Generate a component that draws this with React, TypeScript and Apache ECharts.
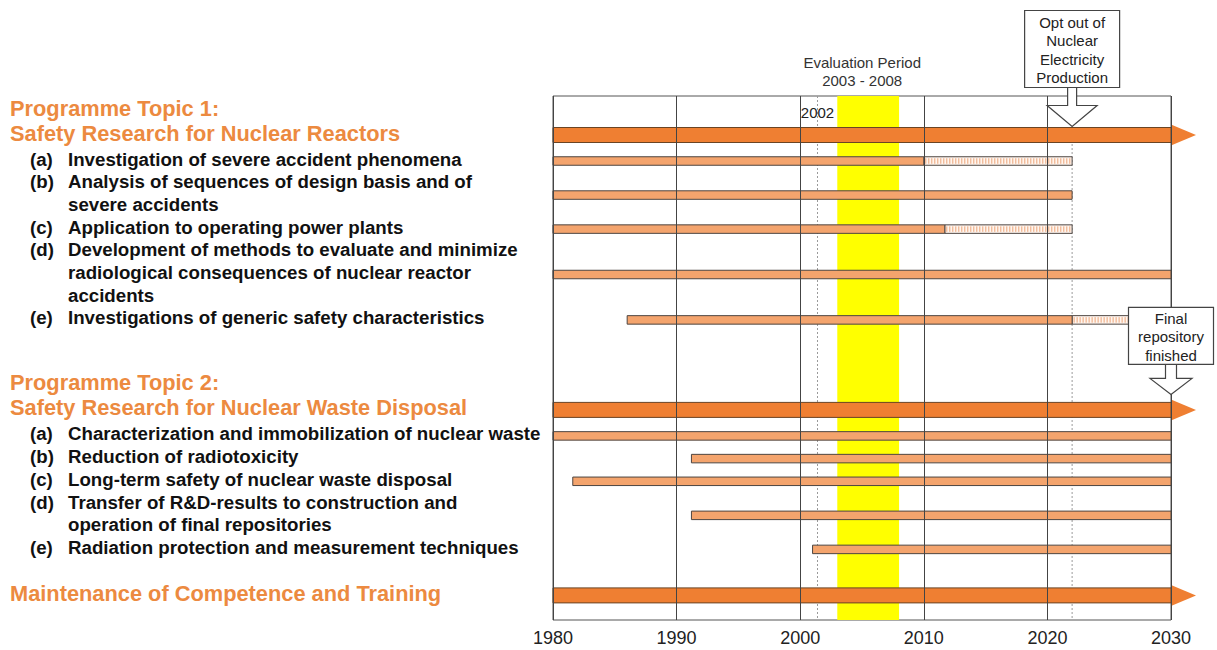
import React, { useEffect, useRef } from "react";
import * as echarts from "echarts";

// ---------------- data ----------------
const axisRange = [1980, 2030];
const axisStep = 10;

const taskLetters = ["", "(a)", "(b)", "(c)", "(d)", "(e)", "", "(a)", "(b)", "(c)", "(d)", "(e)", ""];
const taskLines: string[][] = [
  ["Programme Topic 1:", "Safety Research for Nuclear Reactors"],
  ["Investigation of severe accident phenomena"],
  ["Analysis of sequences of design basis and of", "severe accidents"],
  ["Application to operating power plants"],
  ["Development of methods to evaluate and minimize", "radiological consequences of nuclear reactor", "accidents"],
  ["Investigations of generic safety characteristics"],
  ["Programme Topic 2:", "Safety Research for Nuclear Waste Disposal"],
  ["Characterization and immobilization of nuclear waste"],
  ["Reduction of radiotoxicity"],
  ["Long-term safety of nuclear waste disposal"],
  ["Transfer of R&D-results to construction and", "operation of final repositories"],
  ["Radiation protection and measurement techniques"],
  ["Maintenance of Competence and Training"],
];
const taskIsTopic = [true, false, false, false, false, false, true, false, false, false, false, false, true];
const taskStart = [1980, 1980, 1980, 1980, 1980, 1986, 1980, 1980, 1991.2, 1981.6, 1991.2, 2001, 1980];
const taskEnd = [2030, 2010, 2022, 2011.7, 2030, 2022, 2030, 2030, 2030, 2030, 2030, 2030, 2030];
const taskPlannedEnd = [2030, 2022, 2022, 2022, 2030, 2027, 2030, 2030, 2030, 2030, 2030, 2030, 2030];

const evaluationPeriod = [2003, 2008];
const evaluationLabel = ["Evaluation Period", "2003 - 2008"];

const referenceLineYears = [2001.4, 2022];
const referenceLineLabels = ["2002", ""];

const calloutYears = [2022, 2030];
const calloutTask = [0, 6];
const calloutLines = [
  ["Opt out of", "Nuclear", "Electricity", "Production"],
  ["Final", "repository", "finished"],
];

// ---------------- layout / style ----------------
const FONT = '"Liberation Sans", Arial, Helvetica, sans-serif';
const LAYOUT = {
  gridLeft: 553,
  gridRight: 46,
  gridTop: 96,
  gridBottom: 30,
  frameH: 524,
  firstLine: 12,
  headingStep: 25,
  headingToItem: 26,
  itemStep: 22.7,
  groupGap: [65, 46],
  barShift: 2,
  topicX: 10,
  letterX: 30,
  itemX: 68,
  headingSize: 21.8,
  itemSize: 18.7,
};
const calloutGeom = [
  { w: 95, h: 77, stem: 18, head: 21, headHalf: 25, stemHalf: 4.5, gap: 1 },
  { w: 85, h: 57, stem: 14, head: 16, headHalf: 21, stemHalf: 5.5, gap: 8 },
];
const COLORS = {
  topicBar: "#EF7F32",
  topicStroke: "#6a4424",
  itemBar: "#F4A46D",
  itemStroke: "#4d4540",
  hatchFill: "#FFF5EE",
  hatchLine: "#EBA67B",
  heading: "#EC8A40",
  text: "#111111",
  yellow: "#FFFF00",
};

function computeRows() {
  const lineY: number[][] = [];
  const barY: number[] = [];
  let cur = LAYOUT.firstLine;
  let topicCount = 0;
  taskLines.forEach((lines, i) => {
    const topic = taskIsTopic[i];
    if (i > 0) {
      if (topic) cur += LAYOUT.groupGap[topicCount - 1];
      else cur += taskIsTopic[i - 1] ? LAYOUT.headingToItem : LAYOUT.itemStep;
    }
    const ys: number[] = [];
    lines.forEach((_, k) => {
      if (k > 0) cur += topic ? LAYOUT.headingStep : LAYOUT.itemStep;
      ys.push(cur);
    });
    if (topic) topicCount++;
    lineY.push(ys);
    const mean = ys.reduce((a, b) => a + b, 0) / ys.length;
    barY.push((topic ? ys[ys.length - 1] : mean) + LAYOUT.barShift);
  });
  return { lineY, barY };
}

export default function App() {
  const ref = useRef<HTMLDivElement>(null);

  useEffect(() => {
    if (!ref.current) return;
    const chart = echarts.init(ref.current, undefined, { renderer: "svg" });
    const rows = computeRows();

    const renderTask = (params: any, api: any) => {
      const i = params.dataIndex;
      const yv = api.value(3);
      const p0 = api.coord([api.value(0), yv]);
      const x0 = p0[0];
      const yc = p0[1];
      const x1 = api.coord([api.value(1), yv])[0];
      const x2 = api.coord([api.value(2), yv])[0];
      const topic = taskIsTopic[i];
      const h = topic ? 15 : 8.5;
      const children: any[] = [];
      if (x2 > x1 + 0.5) {
        children.push({
          type: "rect",
          shape: { x: x1, y: yc - h / 2, width: x2 - x1, height: h },
          style: { fill: COLORS.hatchFill, stroke: COLORS.itemStroke, lineWidth: 1 },
        });
        for (let x = x1 + 2; x < x2 - 1; x += 3) {
          children.push({
            type: "line",
            shape: { x1: x, y1: yc - h / 2 + 1.5, x2: x, y2: yc + h / 2 - 1.5 },
            style: { stroke: COLORS.hatchLine, lineWidth: 1 },
          });
        }
      }
      children.push({
        type: "rect",
        shape: { x: x0, y: yc - h / 2, width: x1 - x0, height: h },
        style: {
          fill: topic ? COLORS.topicBar : COLORS.itemBar,
          stroke: topic ? COLORS.topicStroke : COLORS.itemStroke,
          lineWidth: 1,
        },
      });
      if (topic) {
        children.push({
          type: "polygon",
          shape: { points: [[x1, yc - 10.5], [x1 + 25, yc], [x1, yc + 10.5]] },
          style: { fill: COLORS.topicBar },
        });
      }
      const ys = rows.lineY[i];
      taskLines[i].forEach((t, k) => {
        const ty = api.coord([axisRange[0], ys[k]])[1];
        children.push({
          type: "text",
          x: topic ? LAYOUT.topicX : LAYOUT.itemX,
          y: ty,
          style: {
            text: t,
            fill: topic ? COLORS.heading : COLORS.text,
            fontSize: topic ? LAYOUT.headingSize : LAYOUT.itemSize,
            fontWeight: "bold",
            fontFamily: FONT,
            align: "left",
            verticalAlign: "middle",
          },
        });
      });
      if (taskLetters[i]) {
        children.push({
          type: "text",
          x: LAYOUT.letterX,
          y: api.coord([axisRange[0], ys[0]])[1],
          style: {
            text: taskLetters[i],
            fill: COLORS.text,
            fontSize: LAYOUT.itemSize,
            fontWeight: "bold",
            fontFamily: FONT,
            align: "left",
            verticalAlign: "middle",
          },
        });
      }
      return { type: "group", children };
    };

    const renderBand = (params: any, api: any) => {
      const a = api.coord([api.value(0), 0]);
      const b = api.coord([api.value(1), LAYOUT.frameH]);
      const cx = (a[0] + b[0]) / 2 - 6;
      return {
        type: "group",
        children: [
          {
            type: "rect",
            shape: { x: a[0], y: a[1], width: b[0] - a[0], height: b[1] - a[1] },
            style: { fill: COLORS.yellow },
          },
          ...evaluationLabel.map((t, k) => ({
            type: "text",
            x: cx,
            y: a[1] - 34 + k * 18,
            style: {
              text: t,
              fill: "#333",
              fontSize: 15,
              fontFamily: FONT,
              align: "center",
              verticalAlign: "middle",
            },
          })),
        ],
      };
    };

    const renderRefLine = (params: any, api: any) => {
      const a = api.coord([api.value(0), 0]);
      const b = api.coord([api.value(0), LAYOUT.frameH]);
      const label = referenceLineLabels[params.dataIndex];
      const children: any[] = [
        {
          type: "line",
          shape: { x1: a[0], y1: a[1], x2: b[0], y2: b[1] },
          style: { stroke: "#9a9a9a", lineWidth: 1, lineDash: [2, 2] },
        },
      ];
      if (label) {
        children.push({
          type: "text",
          x: a[0],
          y: a[1] + 16,
          style: {
            text: label,
            fill: "#222",
            fontSize: 15,
            fontFamily: FONT,
            align: "center",
            verticalAlign: "middle",
          },
        });
      }
      return { type: "group", children };
    };

    const renderCallout = (params: any, api: any) => {
      const i = params.dataIndex;
      const g = calloutGeom[i];
      const task = calloutTask[i];
      const barH = taskIsTopic[task] ? 15 : 8.5;
      const p = api.coord([api.value(0), api.value(1)]);
      const tx = p[0];
      const tip = p[1] - barH / 2 - g.gap;
      const headTop = tip - g.head;
      const boxBottom = headTop - g.stem;
      const boxTop = boxBottom - g.h;
      const lines = calloutLines[i];
      const lh = 18.5;
      const firstY = (boxTop + boxBottom) / 2 - ((lines.length - 1) * lh) / 2 + 1;
      return {
        type: "group",
        children: [
          {
            type: "polygon",
            shape: {
              points: [
                [tx - g.stemHalf, boxBottom],
                [tx - g.stemHalf, headTop],
                [tx - g.headHalf, headTop],
                [tx, tip],
                [tx + g.headHalf, headTop],
                [tx + g.stemHalf, headTop],
                [tx + g.stemHalf, boxBottom],
              ],
            },
            style: { fill: "#fff", stroke: "#444", lineWidth: 1.2 },
          },
          {
            type: "rect",
            shape: { x: tx - g.w / 2, y: boxTop, width: g.w, height: g.h },
            style: { fill: "#fff", stroke: "#444", lineWidth: 1.2 },
          },
          ...lines.map((t, k) => ({
            type: "text",
            x: tx,
            y: firstY + k * lh,
            style: {
              text: t,
              fill: "#222",
              fontSize: 15,
              fontFamily: FONT,
              align: "center",
              verticalAlign: "middle",
            },
          })),
        ],
      };
    };

    chart.setOption({
      animation: false,
      grid: {
        left: LAYOUT.gridLeft,
        right: LAYOUT.gridRight,
        top: LAYOUT.gridTop,
        bottom: LAYOUT.gridBottom,
        show: true,
        borderColor: "#555",
        borderWidth: 1,
      },
      xAxis: {
        type: "value",
        min: axisRange[0],
        max: axisRange[1],
        interval: axisStep,
        z: 4,
        axisLine: { show: false },
        axisTick: { show: false },
        axisLabel: {
          fontSize: 18,
          color: "#222",
          margin: 9,
          fontFamily: FONT,
          formatter: (v: number) => String(v),
        },
        splitLine: { show: true, lineStyle: { color: "#444", width: 1 } },
      },
      yAxis: {
        type: "value",
        min: 0,
        max: LAYOUT.frameH,
        inverse: true,
        show: false,
      },
      series: [
        {
          type: "custom",
          name: "Evaluation period",
          z: 1,
          renderItem: renderBand,
          data: [[evaluationPeriod[0], evaluationPeriod[1]]],
          encode: { x: [0, 1] },
          silent: true,
        },
        {
          type: "custom",
          name: "Reference lines",
          z: 1,
          renderItem: renderRefLine,
          data: referenceLineYears.map((y) => [y]),
          encode: { x: 0 },
          silent: true,
        },
        {
          type: "custom",
          name: "Tasks",
          z: 2,
          renderItem: renderTask,
          data: taskStart.map((s, i) => [s, taskEnd[i], taskPlannedEnd[i], rows.barY[i]]),
          encode: { x: [0, 1, 2], y: 3 },
          silent: true,
        },
        {
          type: "custom",
          name: "Callouts",
          z: 6,
          renderItem: renderCallout,
          data: calloutYears.map((y, i) => [y, rows.barY[calloutTask[i]]]),
          encode: { x: 0, y: 1 },
          silent: true,
        },
      ],
    });

    return () => chart.dispose();
  }, []);

  return (
    <div
      ref={ref}
      style={{ position: "absolute", left: 0, top: 0, width: 1217, height: 650 }}
    />
  );
}
